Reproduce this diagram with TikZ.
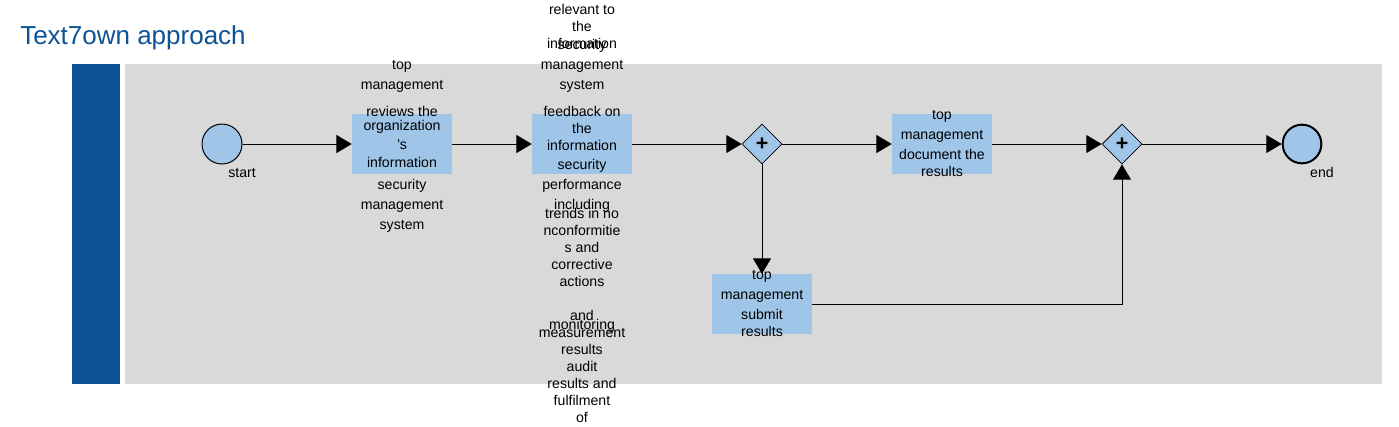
\documentclass[tikz,border=0pt]{standalone}
\usepackage{fontspec}
\setmainfont{Liberation Sans}
\usetikzlibrary{shapes.geometric,arrows.meta}
\definecolor{poolblue}{HTML}{0D5294}
\definecolor{poolgray}{HTML}{D9D9D9}
\definecolor{elemblue}{HTML}{9FC5E8}
\tikzset{
  lbl/.style={inner sep=0pt, yshift=-1.5pt, font=\fontsize{10.6}{12}\selectfont, text height=7.8pt, text depth=2pt},
  taskbox/.style={rectangle, fill=elemblue, minimum width=75pt, minimum height=45pt, inner sep=0pt},
  gw/.style={diamond, draw=black, fill=elemblue, line width=0.6pt, minimum width=30pt, minimum height=30pt, inner sep=0pt, font=\fontsize{16}{16}\selectfont\bfseries},
  evstart/.style={circle, draw=black, fill=elemblue, line width=0.75pt, minimum size=30pt, inner sep=0pt},
  evend/.style={circle, draw=black, fill=elemblue, line width=1.5pt, minimum size=29pt, inner sep=0pt},
  flow/.style={draw=black, line width=0.75pt, -{Triangle[length=11.5pt,width=13.5pt]}},
}
\begin{document}
\begin{tikzpicture}[x=0.75pt,y=-0.75pt]
\useasboundingbox (0,0) rectangle (1399,426);
% title
\node[anchor=base west, inner sep=0pt, text=poolblue, font=\fontsize{19.5}{22}\selectfont] (title) at (20,44) {Text7own approach};
% pool
\fill[poolblue] (72,64) rectangle (120,384);
\fill[poolgray] (125,64) rectangle (1382,384);
% events
\node[evstart] (start) at (222,144) {};
\node[lbl] (startlbl) at (242,172) {start};
\node[evend] (end) at (1302,144) {};
\node[lbl] (endlbl) at (1322,172) {end};
% tasks
\node[taskbox] (t1) at (402,144) {};
\node[taskbox] (t2) at (582,144) {};
\node[taskbox] (t3) at (942,144) {};
\node[taskbox] (t4) at (762,304) {};
% gateways
\node[gw] (g1) at (762,144) {+};
\node[gw] (g2) at (1122,144) {+};
% connectors
\draw[flow] (start) -- (t1);
\draw[flow] (t1) -- (t2);
\draw[flow] (t2) -- (g1);
\draw[flow] (g1) -- (t3);
\draw[flow] (g1) -- (t4);
\draw[flow] (t3) -- (g2);
\draw[flow] (t4.east) -| (g2.south);
\draw[flow] (g2) -- (end);
% task 1 text
\node[lbl] (t1a) at (402,64) {top};
\node[lbl] (t1b) at (402,84) {management};
\node[lbl] (t1c) at (402,111) {reviews the};
\node[lbl] (t1d) at (402,125) {organization};
\node[lbl] (t1e) at (402,144) {'s};
\node[lbl] (t1f) at (402,162) {information};
\node[lbl] (t1g) at (402,184) {security};
\node[lbl] (t1h) at (402,204) {management};
\node[lbl] (t1i) at (402,224) {system};
% task 2 text
\node[lbl] (t2a) at (582,9) {relevant to};
\node[lbl] (t2b) at (582,26) {the};
\node[lbl] (t2c) at (582,43) {information};
\node[lbl] (t2d) at (582,44) {security};
\node[lbl] (t2e) at (582,64) {management};
\node[lbl] (t2f) at (582,84) {system};
\node[lbl] (t2g) at (582,111) {feedback on};
\node[lbl] (t2h) at (582,128) {the};
\node[lbl] (t2i) at (582,145) {information};
\node[lbl] (t2j) at (582,164) {security};
\node[lbl] (t2k) at (582,184) {performance};
\node[lbl] (t2l) at (582,204) {including};
\node[lbl] (t2m) at (582,213) {trends in no};
\node[lbl] (t2n) at (582,230) {nconformitie};
\node[lbl] (t2o) at (582,247) {s and};
\node[lbl] (t2p) at (582,264) {corrective};
\node[lbl] (t2q) at (582,281) {actions};
\node[lbl] (t2r) at (582,315) {and};
\node[lbl] (t2s) at (582,324) {monitoring};
\node[lbl] (t2t) at (582,332) {measurement};
\node[lbl] (t2u) at (582,349) {results};
\node[lbl] (t2v) at (582,366) {audit};
\node[lbl] (t2w) at (582,383) {results and};
\node[lbl] (t2x) at (582,400) {fulfilment};
\node[lbl] (t2y) at (582,417) {of};
% task 3 text
\node[lbl] (t3a) at (942,114) {top};
\node[lbl] (t3b) at (942,134) {management};
\node[lbl] (t3c) at (942,154) {document the};
\node[lbl] (t3d) at (942,171) {results};
% task 4 text
\node[lbl] (t4a) at (762,274) {top};
\node[lbl] (t4b) at (762,294) {management};
\node[lbl] (t4c) at (762,314) {submit};
\node[lbl] (t4d) at (762,331) {results};
\end{tikzpicture}
\end{document}
